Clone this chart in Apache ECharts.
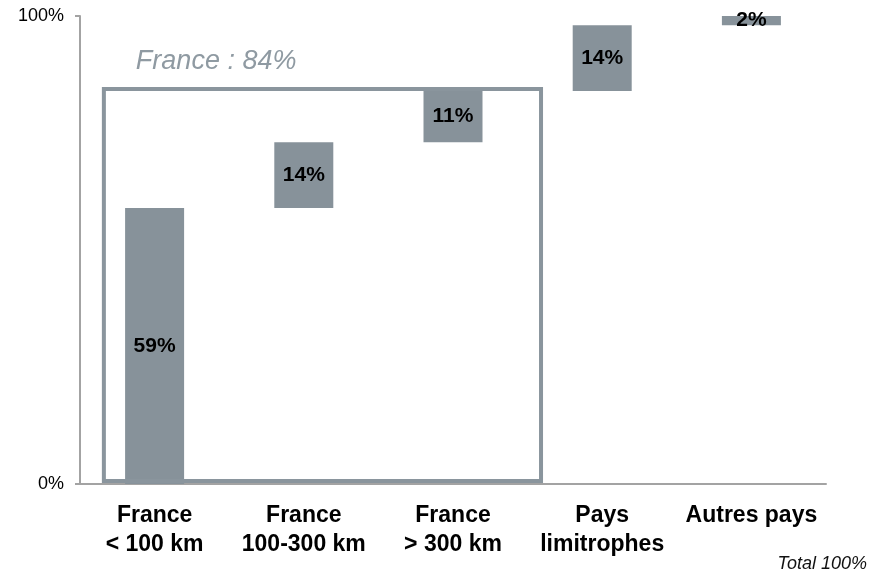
<!DOCTYPE html>
<html>
<head>
<meta charset="utf-8">
<script src="https://cdn.jsdelivr.net/npm/echarts@6/dist/echarts.min.js"></script>
<style>
  html, body { margin: 0; padding: 0; background: #fff; }
  #chart { width: 885px; height: 572px; }
</style>
</head>
<body>
<div id="chart"></div>
<script>
// Destinations, in order along the waterfall
const categories = ['France\n< 100 km', 'France\n100-300 km', 'France\n> 300 km', 'Pays\nlimitrophes', 'Autres pays'];
// Share of each destination (%)
const shares = [59, 14, 11, 14, 2];
// Y-axis tick labels
const yTicks = ['0%', '100%'];
// Group box: first and last category index of France, and its total share
const franceGroup = [0, 2, 84];
const franceLabel = 'France : 84%';
const totalLabel = 'Total 100%';

// Invisible base of each floating bar = running total of the previous shares
const bases = [];
let acc = 0;
for (const v of shares) { bases.push(acc); acc += v; }

const grey = '#87929a';
const axisGrey = '#a3a3a3';

const chart = echarts.init(document.getElementById('chart'));
chart.setOption({
  animation: false,
  grid: { left: 80, right: 59, top: 16, bottom: 88, outerBoundsMode: 'none' },
  xAxis: {
    type: 'category',
    data: categories,
    axisLine: { lineStyle: { color: axisGrey, width: 2 } },
    axisTick: { show: false },
    axisLabel: {
      interval: 0,
      margin: 17,
      color: '#000',
      fontFamily: 'Liberation Sans, Arial, sans-serif',
      fontWeight: 'bold',
      fontSize: 23,
      lineHeight: 29
    }
  },
  yAxis: {
    type: 'value',
    min: 0,
    max: 100,
    interval: 100,
    splitLine: { show: false },
    axisLine: { show: true, lineStyle: { color: axisGrey, width: 2 } },
    axisTick: { show: true, length: 5, lineStyle: { color: axisGrey, width: 2 } },
    axisLabel: {
      margin: 16,
      color: '#000',
      fontFamily: 'Liberation Sans, Arial, sans-serif',
      fontSize: 18,
      formatter: function (v) { return v === 0 ? yTicks[0] : yTicks[1]; }
    }
  },
  series: [
    {
      type: 'bar',
      stack: 'w',
      data: bases,
      barWidth: 59,
      itemStyle: { color: 'transparent' },
      silent: true
    },
    {
      type: 'bar',
      stack: 'w',
      data: shares,
      barWidth: 59,
      itemStyle: { color: grey },
      label: {
        show: true,
        position: 'inside',
        color: '#000',
        fontFamily: 'Liberation Sans, Arial, sans-serif',
        fontWeight: 'bold',
        fontSize: 21,
        formatter: '{c}%'
      }
    },
    {
      // Outline grouping the three French destinations
      type: 'custom',
      data: [franceGroup],
      z: 5,
      renderItem: function (params, api) {
        const band = api.size([1, 0])[0];
        const topLeft = api.coord([api.value(0), api.value(2)]);
        const bottomRight = api.coord([api.value(1), 0]);
        const x0 = topLeft[0] - band * 0.34;
        const x1 = bottomRight[0] + band * 0.59;
        const y0 = topLeft[1] - 2;
        const y1 = bottomRight[1] - 3;
        return {
          type: 'group',
          children: [
            {
              type: 'rect',
              shape: { x: x0, y: y0, width: x1 - x0, height: y1 - y0 },
              style: { fill: null, stroke: '#8a959d', lineWidth: 4 }
            },
            {
              type: 'text',
              x: x0 + 32,
              y: y0 - 27,
              style: {
                text: franceLabel,
                fill: '#8f9aa2',
                font: 'italic 27px "Liberation Sans", Arial, sans-serif',
                verticalAlign: 'middle',
                align: 'left'
              }
            }
          ]
        };
      }
    }
  ],
  graphic: [
    {
      type: 'text',
      right: 18,
      top: 555,
      style: {
        text: totalLabel,
        fill: '#111',
        font: 'italic 18px "Liberation Sans", Arial, sans-serif'
      }
    }
  ]
});
</script>
</body>
</html>
